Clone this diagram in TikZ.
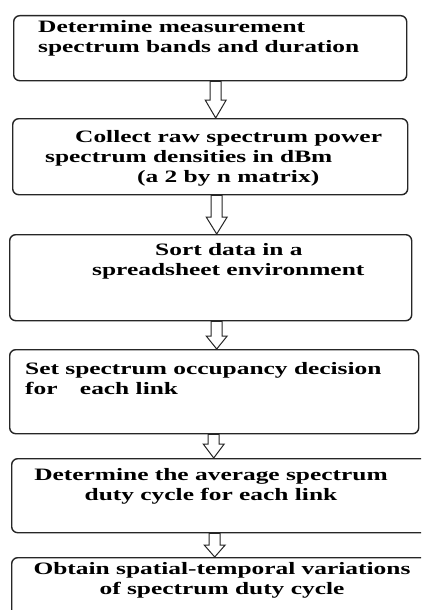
\documentclass[tikz,border=0pt]{standalone}
\usepackage{fontspec}
\newfontfamily\boxfont{Liberation Serif}[FakeStretch=1.46]
\usetikzlibrary{calc}
\begin{document}
\begin{tikzpicture}[x=1pt,y=-1pt,
  stepbox/.style={draw=black!85, line width=1.4pt, rounded corners=6pt, inner sep=0pt, anchor=north west},
  txt/.style={font=\boxfont\bfseries\fontsize{17.4}{20}\selectfont, inner sep=0pt, align=left, anchor=north west},
  ctxt/.style={font=\boxfont\bfseries\fontsize{17.4}{20}\selectfont, inner sep=0pt, align=center, anchor=north},
  blockarrow/.style={draw=black!85, line width=1pt, fill=white,
    to path={let \p1=(\tikztostart), \p2=(\tikztotarget) in
      (\x1-5.5pt,\y1) -- (\x1+5.5pt,\y1) -- (\x1+5.5pt,\y2+#1) -- (\x1+10.5pt,\y2+#1)
      -- (\x1,\y2) -- (\x1-10.5pt,\y2+#1) -- (\x1-5.5pt,\y2+#1) -- cycle}}]
\clip (0,0) rectangle (421,610);
\fill[white] (0,0) rectangle (421,610);
% boxes
\node[stepbox, minimum width=393pt, minimum height=65pt] (b1) at (13,15) {};
\node[stepbox, minimum width=395pt, minimum height=76pt] (b2) at (12,118) {};
\node[stepbox, minimum width=402pt, minimum height=86pt] (b3) at (9,234) {};
\node[stepbox, minimum width=409pt, minimum height=84pt] (b4) at (9,349) {};
\node[stepbox, minimum width=420pt, minimum height=74pt] (b5) at (11,458) {};
\node[stepbox, minimum width=420pt, minimum height=80pt] (b6) at (11,557) {};
% texts
\node[txt] (t1) at (38,20.5) {Determine measurement\\spectrum bands and duration};
\node[txt] (t2) at (45,130.5) {\hspace*{30pt}Collect raw spectrum power\\spectrum densities in dBm\\\hspace*{92pt}(a 2 by n matrix)};
\node[txt] (t3) at (92,243.5) {\hspace*{63pt}Sort data in a\\spreadsheet environment};
\node[txt] (t4) at (25,362.5) {Set spectrum occupancy decision\\for\hspace{16pt} each link};
\node[ctxt] (t5) at (211,468.5) {Determine the average spectrum\\duty cycle for each link};
\node[ctxt] (t6) at (222,562.5) {Obtain spatial-temporal variations\\of spectrum duty cycle};
% arrows
\draw[blockarrow=18pt] ($(b1.south)+(5.5,0)$) to ($(b2.north)+(5.5,0)$);
\draw[blockarrow=17pt] ($(b2.south)+(6.5,0)$) to ($(b3.north)+(6.5,0)$);
\draw[blockarrow=13pt] ($(b3.south)+(6,0)$) to ($(b4.north)+(6,0)$);
\draw[blockarrow=14pt] ($(b4.south)+(-0.5,0)$) to ($(b5.north)+(-0.5,0)$);
\draw[blockarrow=12pt] ($(b5.south)+(-7,0)$) to ($(b6.north)+(-7,0)$);
\end{tikzpicture}
\end{document}
